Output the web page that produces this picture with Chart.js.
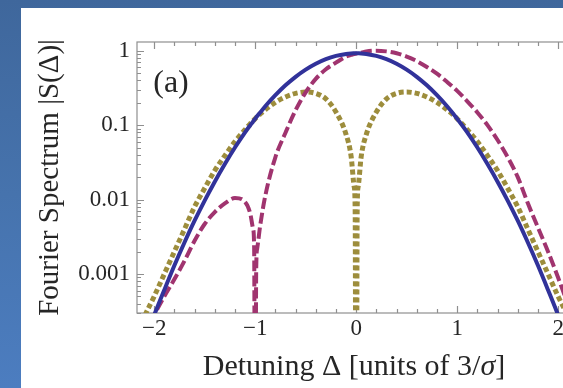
<!DOCTYPE html>
<html>
<head>
<meta charset="utf-8">
<script src="https://cdn.jsdelivr.net/npm/chart.js@4"></script>
<style>
  html, body { margin: 0; padding: 0; width: 563px; height: 388px; overflow: hidden; }
  body { background: linear-gradient(to bottom, #3f679c 0%, #4673ad 50%, #4c7dc0 100%); }
  #panel { position: absolute; left: 21px; top: 8px; right: 0; bottom: 0; background: #fff; overflow: hidden; }
  #spectrum { position: absolute; left: 0; top: 0; }
</style>
</head>
<body>
<div id="panel"><canvas id="spectrum" width="560" height="380"></canvas></div>
<script>
// detuning values (units of 3/sigma)
const deltaValues = [-2.2, -2.1, -2.0, -1.9, -1.8, -1.7, -1.6, -1.5, -1.4, -1.3, -1.2, -1.1,
  -1.05, -1.02, -1.01, -1.0, -0.99, -0.98, -0.95,
  -0.9, -0.8, -0.7, -0.6, -0.5, -0.4, -0.3, -0.2, -0.1,
  -0.05, -0.02, -0.01, 0, 0.01, 0.02, 0.05,
  0.1, 0.2, 0.3, 0.4, 0.5, 0.6, 0.7, 0.8, 0.9, 1.0, 1.1, 1.2, 1.3, 1.4, 1.5, 1.6, 1.7, 1.8, 1.9, 2.0, 2.1, 2.2, 2.3];

// |S(Δ)| solid blue
const blueSpectrum = [5.1e-5, 1.21e-4, 2.8e-4, 6.1e-4, 1.3e-3, 2.65e-3, 5.2e-3, 9.7e-3, 0.0174, 0.030, 0.050, 0.080,
  0.099, 0.112, 0.117, 0.122, 0.127, 0.132, 0.148,
  0.179, 0.252, 0.342, 0.445, 0.556, 0.667, 0.769, 0.851, 0.904,
  0.918, 0.922, 0.923, 0.923, 0.923, 0.922, 0.918,
  0.904, 0.851, 0.769, 0.667, 0.556, 0.445, 0.342, 0.252, 0.179, 0.122, 0.080, 0.050, 0.030, 0.0174, 9.7e-3, 5.2e-3, 2.65e-3, 1.3e-3, 6.1e-4, 2.8e-4, 1.21e-4, 5.1e-5, 2.0e-5];

// |S(Δ)| dashed magenta
const magentaSpectrum = [6e-5, 1.4e-4, 2.8e-4, 5.0e-4, 8.5e-4, 1.5e-3, 2.8e-3, 4.7e-3, 6.8e-3, 8.9e-3, 0.0105, 9.3e-3,
  6.6e-3, 4.0e-3, 2.2e-3, 1e-7, 1.1e-3, 2.2e-3, 4.5e-3,
  0.0112, 0.037, 0.079, 0.158, 0.275, 0.417, 0.562, 0.69, 0.83,
  0.875, 0.90, 0.905, 0.912, 0.92, 0.925, 0.94,
  0.977, 1.0, 0.977, 0.923, 0.832, 0.724, 0.603, 0.490, 0.380, 0.288, 0.209, 0.148, 0.100, 0.063, 0.0372, 0.020, 8.9e-3, 4.2e-3, 2.0e-3, 8.9e-4, 3.8e-4, 1.6e-4, 6.3e-5];

// |S(Δ)| dotted olive
const oliveSpectrum = [1.1e-4, 2.6e-4, 5.0e-4, 1.0e-3, 2.0e-3, 4.0e-3, 8.0e-3, 0.0142, 0.0245, 0.039, 0.060, 0.087,
  0.104, 0.114, 0.118, 0.122, 0.126, 0.129, 0.141,
  0.161, 0.202, 0.239, 0.267, 0.278, 0.267, 0.225, 0.15, 0.075,
  0.038, 0.015, 0.0075, 1e-7, 0.0075, 0.015, 0.038,
  0.075, 0.15, 0.225, 0.267, 0.278, 0.267, 0.239, 0.202, 0.161, 0.122, 0.087, 0.060, 0.039, 0.0245, 0.0142, 8.0e-3, 4.0e-3, 2.0e-3, 1.0e-3, 5.0e-4, 2.6e-4, 1.1e-4, 4e-5];

const xTickValues = [-2, -1, 0, 1, 2];
const xTickLabels = ['\u22122', '\u22121', '0', '1', '2'];
const yTickValues = [1, 0.1, 0.01, 0.001];
const yTickLabels = ['1', '0.1', '0.01', '0.001'];
// x title pieces: [text, italic]
const xTitleParts = [['Detuning \u0394 [units of 3/', false], ['\u03c3', true], [']', false]];

const serif = "'Liberation Serif', 'Times New Roman', serif";
const textColor = '#262626';

function toPoints(values) {
    return deltaValues.map((x, i) => ({ x: x, y: values[i] }));
}

function findTick(list, v, tol) {
    return list.findIndex(t => Math.abs(t - v) <= tol * Math.max(Math.abs(t), 1e-9));
}

// frame with inward ticks (Mathematica style), panel label, x title with italic sigma
const framePlugin = {
    id: 'frame',
    beforeDatasetsDraw(chart) {
        const { ctx, chartArea: a, scales: { x, y } } = chart;
        ctx.save();
        ctx.strokeStyle = '#8f8f8f';
        ctx.lineWidth = 1.2;
        ctx.strokeRect(a.left, a.top, a.right - a.left, a.bottom - a.top);
        ctx.beginPath();
        for (let k = -11; k <= 11; k++) {
            const v = k / 5;
            if (v < x.min || v > x.max) continue;
            const px = Math.round(x.getPixelForValue(v)) + 0.5;
            const len = k % 5 === 0 ? 7 : 4;
            ctx.moveTo(px, a.bottom); ctx.lineTo(px, a.bottom - len);
            ctx.moveTo(px, a.top); ctx.lineTo(px, a.top + len);
        }
        for (let e = -4; e <= 0; e++) {
            for (let m = 1; m <= 9; m++) {
                const v = m * Math.pow(10, e);
                if (v < y.min || v > y.max) continue;
                const py = Math.round(y.getPixelForValue(v)) + 0.5;
                const len = m === 1 ? 7 : 4;
                ctx.moveTo(a.left, py); ctx.lineTo(a.left + len, py);
                ctx.moveTo(a.right, py); ctx.lineTo(a.right - len, py);
            }
        }
        ctx.stroke();
        ctx.restore();
    },
    afterDraw(chart) {
        const ctx = chart.ctx;
        ctx.save();
        ctx.fillStyle = textColor;
        ctx.font = '32px ' + serif;
        ctx.textAlign = 'center';
        ctx.textBaseline = 'middle';
        ctx.fillText('(a)', 150, 76);

        // x axis title
        const size = 30;
        const fontOf = (it) => (it ? 'italic ' : '') + size + 'px ' + serif;
        let total = 0;
        xTitleParts.forEach(([t, it]) => { ctx.font = fontOf(it); total += ctx.measureText(t).width; });
        let cx = 333 - total / 2;
        ctx.textAlign = 'left';
        ctx.textBaseline = 'alphabetic';
        xTitleParts.forEach(([t, it]) => {
            ctx.font = fontOf(it);
            ctx.fillText(t, cx, 367);
            cx += ctx.measureText(t).width;
        });
        ctx.restore();
    }
};

new Chart(document.getElementById('spectrum').getContext('2d'), {
    type: 'line',
    data: {
        datasets: [{
            label: 'solid',
            data: toPoints(blueSpectrum),
            borderColor: '#31329a',
            borderWidth: 4,
            pointRadius: 0,
            cubicInterpolationMode: 'monotone'
        }, {
            label: 'dashed',
            data: toPoints(magentaSpectrum),
            borderColor: '#a0346f',
            borderWidth: 4,
            borderDash: [11, 4],
            pointRadius: 0,
            cubicInterpolationMode: 'monotone'
        }, {
            label: 'dotted',
            data: toPoints(oliveSpectrum),
            borderColor: '#9d8d3c',
            borderWidth: 5,
            borderDash: [5, 3],
            pointRadius: 0,
            cubicInterpolationMode: 'monotone'
        }]
    },
    options: {
        responsive: false,
        animation: false,
        events: [],
        layout: { padding: { top: 34, right: 10, left: 0, bottom: 0 } },
        plugins: { legend: { display: false }, tooltip: { enabled: false } },
        scales: {
            x: {
                type: 'linear',
                min: -2.17,
                max: 2.127,
                border: { display: false },
                grid: { display: false, drawTicks: false },
                ticks: {
                    stepSize: 1,
                    includeBounds: false,
                    autoSkip: false,
                    maxRotation: 0,
                    padding: 2,
                    color: textColor,
                    font: { family: serif, size: 23 },
                    callback: (v) => {
                        const k = findTick(xTickValues, v, 1e-6);
                        return k >= 0 ? xTickLabels[k] : '';
                    }
                },
                title: { display: false },
                afterFit: (scale) => { scale.height = 75; }
            },
            y: {
                type: 'logarithmic',
                min: 3.18e-4,
                max: 1.306,
                border: { display: false },
                grid: { display: false, drawTicks: false },
                ticks: {
                    includeBounds: false,
                    autoSkip: false,
                    padding: 7,
                    color: textColor,
                    font: { family: serif, size: 23 },
                    callback: (v) => {
                        const k = findTick(yTickValues, v, 1e-6);
                        return k >= 0 ? yTickLabels[k] : '';
                    }
                },
                title: {
                    display: true,
                    text: 'Fourier Spectrum |S(\u0394)|',
                    color: textColor,
                    font: { family: serif, size: 29 },
                    padding: { top: 12, bottom: 0 }
                },
                afterFit: (scale) => { scale.width = 116; }
            }
        }
    },
    plugins: [framePlugin]
});
</script>
</body>
</html>
